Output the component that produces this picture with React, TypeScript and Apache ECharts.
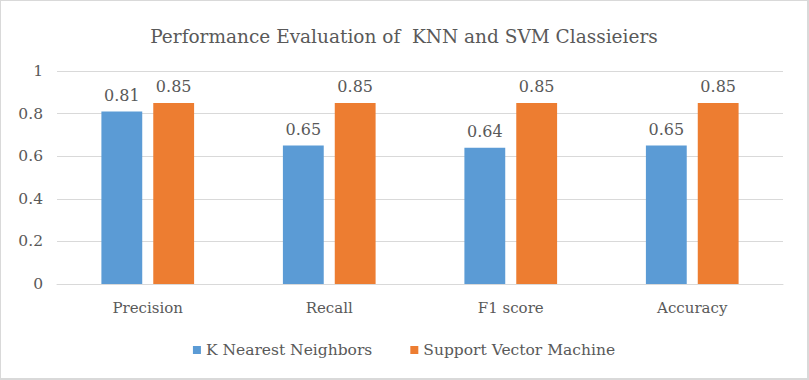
import React, { useEffect, useRef } from "react";
import * as echarts from "echarts";

const categories = ["Precision", "Recall", "F1 score", "Accuracy"];
const knnValues = [0.81, 0.65, 0.64, 0.65];
const svmValues = [0.85, 0.85, 0.85, 0.85];
const seriesNames = ["K Nearest Neighbors", "Support Vector Machine"];
const titleText = "Performance Evaluation of  KNN and SVM Classieiers";

const FONT = "DejaVu Serif";
const TEXT = "#595959";

export default function App() {
  const ref = useRef<HTMLDivElement>(null);
  useEffect(() => {
    if (!ref.current) return;
    const chart = echarts.init(ref.current, undefined, { renderer: "svg" });
    const label = {
      show: true,
      position: "top",
      distance: 8,
      color: TEXT,
      fontFamily: FONT,
      fontSize: 16,
      formatter: (p: any) => String(p.value),
    };
    chart.setOption({
      animation: false,
      backgroundColor: "#ffffff",
      title: {
        text: titleText,
        left: "center",
        top: 21,
        textStyle: { color: TEXT, fontFamily: FONT, fontSize: 18.5, fontWeight: "normal" },
      },
      legend: {
        bottom: 15,
        left: "center",
        itemWidth: 8,
        itemHeight: 8,
        itemGap: 38,
        icon: "rect",
        textStyle: { color: TEXT, fontFamily: FONT, fontSize: 15.5 },
        data: seriesNames,
      },
      grid: { left: 56, right: 24, top: 70, bottom: 94, containLabel: false },
      xAxis: {
        type: "category",
        data: categories,
        axisTick: { show: false },
        axisLine: { lineStyle: { color: "#d9d9d9" } },
        axisLabel: { color: TEXT, fontFamily: FONT, fontSize: 15, margin: 16 },
      },
      yAxis: {
        type: "value",
        min: 0,
        max: 1,
        interval: 0.2,
        axisLine: { show: false },
        axisTick: { show: false },
        splitLine: { lineStyle: { color: "#d9d9d9" } },
        axisLabel: { color: TEXT, fontFamily: FONT, fontSize: 15.5, margin: 14 },
      },
      series: [
        {
          name: seriesNames[0],
          type: "bar",
          data: knnValues,
          barWidth: "22.5%",
          barGap: "27%",
          itemStyle: { color: "#5B9BD5" },
          label,
        },
        {
          name: seriesNames[1],
          type: "bar",
          data: svmValues,
          barWidth: "22.5%",
          itemStyle: { color: "#ED7D31" },
          label,
        },
      ],
    });
    return () => chart.dispose();
  }, []);
  return (
    <div
      style={{
        position: "absolute",
        left: 0,
        top: 0,
        width: 809,
        height: 380,
        boxSizing: "border-box",
        border: "1px solid #d9d9d9",
        borderRightWidth: 2,
        borderBottomWidth: 2,
        background: "#fff",
      }}
    >
      <div ref={ref} style={{ width: 806, height: 377 }} />
    </div>
  );
}
